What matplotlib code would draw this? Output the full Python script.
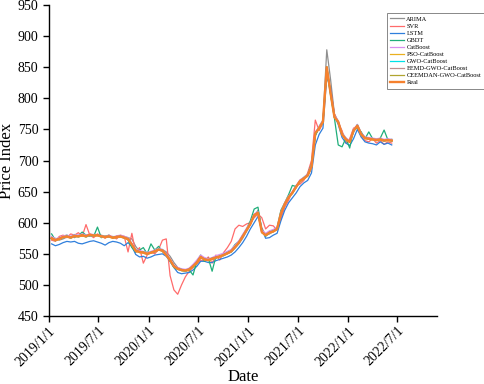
import matplotlib
matplotlib.use("Agg")
import matplotlib.pyplot as plt
import pandas as pd
import numpy as np

plt.rcParams['font.family'] = ['Liberation Serif', 'DejaVu Serif']

dates = pd.date_range('2019-01-11', periods=90, freq='14D')

real = [575,572,574,577,578,576,579,578,580,578,
        581,579,580,578,577,578,576,577,578,576,
        574,565,555,553,552,550,552,554,557,555,
        548,540,530,526,524,523,525,530,536,545,
        541,540,542,544,546,548,551,554,561,568,
        578,588,598,612,616,585,580,584,586,590,
        615,630,641,648,658,667,671,676,690,744,
        752,762,850,808,770,762,742,734,730,748,
        756,742,736,735,734,733,734,732,733,732]

arima = [573,575,572,574,577,578,576,579,578,580,
         578,581,579,580,578,577,578,576,577,578,
         576,574,562,554,553,550,551,553,556,557,
         553,546,536,528,525,523,524,528,534,543,
         543,540,541,543,546,548,550,553,559,566,
         575,586,597,610,620,592,579,582,586,589,
         610,628,640,648,656,666,671,675,688,740,
         755,765,878,830,775,763,745,736,731,745,
         758,745,737,735,734,733,734,732,733,732]

svr = [572,570,578,580,576,582,580,584,578,597,
       580,576,582,579,575,580,577,574,580,578,
       553,583,552,560,535,548,553,550,557,572,
       574,515,492,485,500,513,522,528,534,540,
       538,545,535,548,540,552,560,570,590,596,
       594,598,600,608,614,608,590,596,595,588,
       606,625,636,650,660,662,668,680,700,765,
       748,760,840,815,775,760,748,728,735,752,
       755,738,732,730,735,728,732,726,730,728]

lstm = [566,563,565,568,570,569,570,567,566,568,
        570,571,569,567,564,568,570,569,567,563,
        568,562,549,545,546,543,545,548,549,550,
        546,538,528,520,518,519,520,524,530,538,
        538,536,536,539,541,543,545,548,553,560,
        568,578,590,600,610,590,575,576,580,583,
        603,620,632,640,648,658,664,668,680,725,
        742,752,835,815,772,758,737,728,724,735,
        750,738,730,728,727,725,730,726,728,725]

gbdt = [582,572,575,578,580,577,581,579,585,580,
        580,578,593,576,578,580,575,578,579,577,
        572,560,553,556,560,550,566,556,562,554,
        550,538,528,525,523,522,524,516,538,548,
        538,543,522,546,545,550,553,556,565,570,
        580,590,603,622,625,588,578,586,588,592,
        620,632,645,660,658,668,673,678,694,740,
        752,762,845,805,768,725,722,736,720,750,
        752,746,735,746,735,732,736,749,733,734]

catboost = [578,574,576,579,580,578,581,580,582,580,
            582,581,581,579,578,580,577,579,580,578,
            576,567,557,555,554,552,554,556,559,557,
            550,542,532,528,526,525,527,533,540,548,
            544,542,544,547,549,551,554,557,564,571,
            581,591,600,614,618,588,583,587,589,593,
            617,632,643,650,660,669,673,678,692,746,
            754,764,848,810,772,764,744,736,732,750,
            758,744,738,737,736,735,736,734,735,734]

pso = [574,571,573,576,577,575,578,577,579,577,
       580,578,579,577,576,577,575,576,577,575,
       573,564,554,552,551,549,551,553,556,554,
       547,539,529,525,523,522,524,529,535,544,
       540,539,541,543,545,547,550,553,560,567,
       577,587,597,611,615,584,579,583,585,589,
       614,629,640,647,657,666,670,675,689,743,
       751,761,848,807,769,761,741,733,729,747,
       755,741,735,734,733,732,733,731,732,731]

gwo = [576,571,575,576,579,575,580,577,581,577,
       580,578,581,577,578,577,577,576,579,575,
       575,564,556,552,553,549,553,553,558,554,
       549,539,531,525,525,522,526,529,537,544,
       542,539,543,543,547,547,552,553,562,567,
       579,587,599,611,617,584,581,583,587,589,
       616,629,642,647,659,666,672,675,691,743,
       753,761,851,807,771,761,743,733,731,747,
       757,741,737,734,735,732,735,731,734,731]

eemd = [575,573,574,578,577,577,579,579,580,579,
        580,580,580,579,577,579,576,578,578,577,
        574,566,555,554,552,551,552,555,557,556,
        548,541,530,527,524,524,525,531,536,546,
        541,541,542,545,546,549,551,555,561,569,
        578,589,598,613,616,586,580,585,586,591,
        615,631,641,649,658,668,671,677,690,745,
        752,763,850,809,770,763,742,735,730,749,
        756,743,736,736,734,734,734,733,733,733]

ceemdan = [576,572,575,577,578,577,579,578,581,578,
           581,580,580,578,578,578,576,578,578,576,
           574,565,556,553,553,550,552,554,557,556,
           548,540,531,526,524,523,525,530,537,545,
           541,540,543,544,546,548,551,554,561,568,
           578,588,598,612,617,585,580,584,586,590,
           615,630,641,648,658,667,672,676,690,744,
           752,762,851,808,770,762,742,734,730,748,
           756,742,736,735,734,733,734,732,733,732]

series = [
    ("ARIMA", arima, "#8f8f8f", 0.9),
    ("SVR", svr, "#ff6b6b", 0.9),
    ("LSTM", lstm, "#2f7fdc", 0.9),
    ("GBDT", gbdt, "#1fae7a", 0.9),
    ("CatBoost", catboost, "#d98ff0", 0.9),
    ("PSO-CatBoost", pso, "#eab020", 0.9),
    ("GWO-CatBoost", gwo, "#00e2e8", 0.9),
    ("EEMD-GWO-CatBoost", eemd, "#c09090", 0.9),
    ("CEEMDAN-GWO-CatBoost", ceemdan, "#b0a530", 0.9),
    ("Real", real, "#f5812e", 1.7),
]

fig = plt.figure(figsize=(4.84, 3.84), dpi=100)
ax = fig.add_axes([0.101, 0.177, 0.802, 0.810])

for name, vals, color, lw in series:
    ax.plot(dates, vals, color=color, lw=lw, label=name)

ax.set_ylim(450, 950)
ax.set_yticks(np.arange(450, 951, 50))
ax.set_xlim(pd.Timestamp('2019-01-01'), pd.Timestamp('2022-11-23'))
xt = pd.to_datetime(['2019-01-01', '2019-07-01', '2020-01-01', '2020-07-01',
                     '2021-01-01', '2021-07-01', '2022-01-01', '2022-07-01'])
xt_labels = ['2019/1/1', '2019/7/1', '2020/1/1', '2020/7/1',
             '2021/1/1', '2021/7/1', '2022/1/1', '2022/7/1']
ax.set_xticks(xt)
ax.set_xticklabels(xt_labels, rotation=45, ha='right', rotation_mode='anchor')

for s in ['top', 'right']:
    ax.spines[s].set_visible(False)
for s in ['left', 'bottom']:
    ax.spines[s].set_linewidth(1.0)
ax.tick_params(axis='both', direction='out', length=4, width=1.0, labelsize=10)
ax.tick_params(axis='x', pad=2)

ax.set_xlabel('Date', fontsize=12, labelpad=0)
ax.set_ylabel('Price Index', fontsize=12, labelpad=2)

leg = ax.legend(loc='upper left', bbox_to_anchor=(0.80, 0.966),
                bbox_transform=fig.transFigure, borderaxespad=0,
                fontsize=4.6, frameon=True, fancybox=False, framealpha=1,
                edgecolor='#888888', handlelength=2.1, handletextpad=0.4,
                labelspacing=0.25, borderpad=0.5)
leg.get_frame().set_linewidth(0.7)

fig.savefig('out.png', dpi=100)
